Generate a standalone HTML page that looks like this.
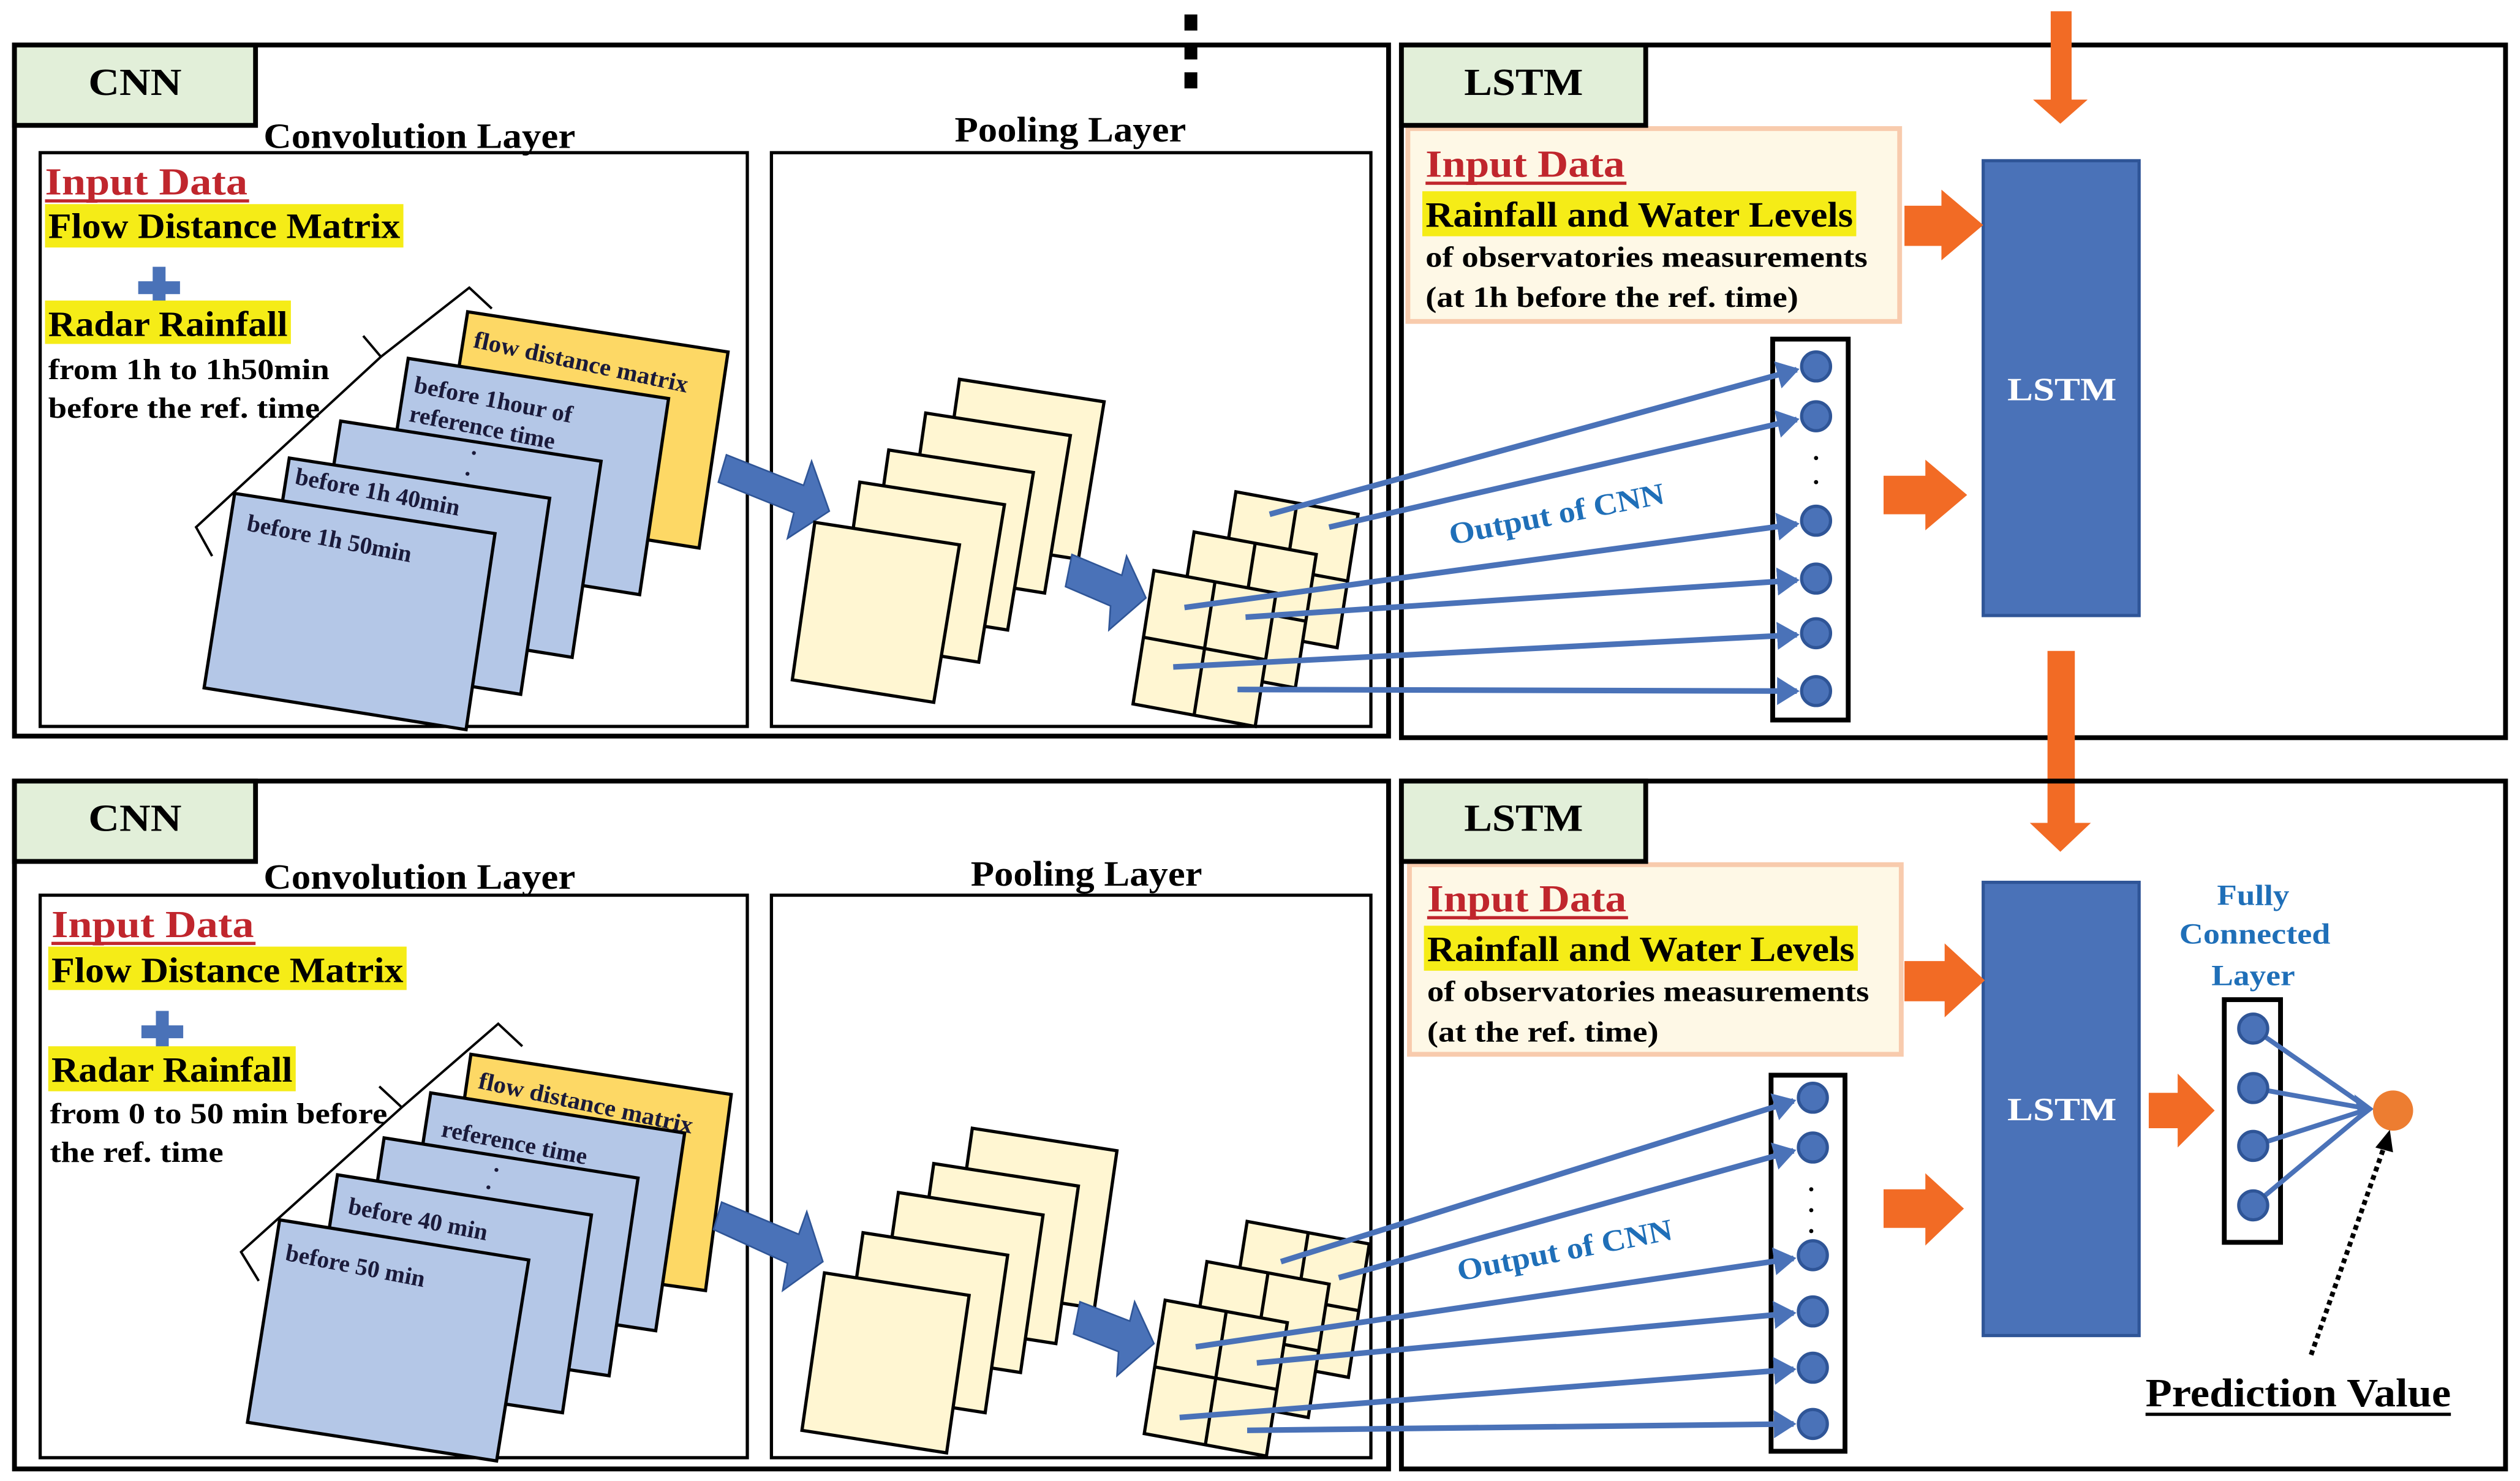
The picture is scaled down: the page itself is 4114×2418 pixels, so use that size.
<!DOCTYPE html>
<html><head><meta charset="utf-8"><style>
html,body{margin:0;padding:0;background:#fff;}
svg{display:block;}
text{font-family:"Liberation Serif",serif;font-weight:bold;}
</style></head><body>
<svg width="4114" height="2418" viewBox="0 0 1568 921.5" preserveAspectRatio="none" xmlns="http://www.w3.org/2000/svg">
<defs>
<marker id="ah" markerWidth="5" markerHeight="5" refX="3.5" refY="2.5" orient="auto" markerUnits="strokeWidth">
<path d="M0,0 L4,2.5 L0,5 Z" fill="#4a72b8"/></marker>
<marker id="ahk" markerWidth="5" markerHeight="5" refX="3.5" refY="2.5" orient="auto" markerUnits="strokeWidth">
<path d="M0,0 L4,2.5 L0,5 Z" fill="#000"/></marker>
</defs>
<rect width="1568" height="921.5" fill="#fff"/>

<!-- dotted top -->
<rect x="737" y="9" width="8" height="10" fill="#000"/>
<rect x="737" y="27" width="8" height="10" fill="#000"/>
<rect x="737" y="45" width="8" height="10" fill="#000"/>

<!-- ============ TOP PANEL ============ -->
<rect x="9" y="28" width="855" height="430" fill="none" stroke="#000" stroke-width="3"/>
<rect x="9" y="28" width="150" height="50" fill="#e2efd9" stroke="#000" stroke-width="3"/>
<text x="84" y="59" font-size="24" text-anchor="middle" textLength="58" lengthAdjust="spacingAndGlyphs">CNN</text>
<text x="261" y="92" font-size="22" text-anchor="middle" textLength="194" lengthAdjust="spacingAndGlyphs">Convolution Layer</text>
<rect x="25" y="95" width="440" height="357" fill="none" stroke="#000" stroke-width="2"/>
<text x="666" y="88" font-size="22" text-anchor="middle" textLength="144" lengthAdjust="spacingAndGlyphs">Pooling Layer</text>
<rect x="480" y="95" width="373" height="357" fill="none" stroke="#000" stroke-width="2"/>

<text x="28" y="121" font-size="24" fill="#c0262d" textLength="126" lengthAdjust="spacingAndGlyphs">Input Data</text>
<rect x="28" y="124" width="127" height="2" fill="#c0262d"/>
<rect x="28" y="127" width="223" height="27" fill="#f5ec17"/>
<text x="30" y="148" font-size="22" textLength="219" lengthAdjust="spacingAndGlyphs">Flow Distance Matrix</text>
<rect x="86" y="175" width="26" height="8" fill="#4a72b8"/>
<rect x="95" y="166" width="8" height="25" fill="#4a72b8"/>
<rect x="28" y="187" width="153" height="27" fill="#f5ec17"/>
<text x="30" y="209" font-size="22" textLength="149" lengthAdjust="spacingAndGlyphs">Radar Rainfall</text>
<text x="30" y="236" font-size="18" textLength="175" lengthAdjust="spacingAndGlyphs">from 1h to 1h50min</text>
<text x="30" y="260" font-size="18" textLength="169" lengthAdjust="spacingAndGlyphs">before the ref. time</text>

<path d="M132,346 L122,328 L237,222 L292,179 L306,192 M226,209 L237,222" fill="none" stroke="#000" stroke-width="1.5"/>

<g stroke="#000" stroke-width="2">
<polygon transform="translate(291,194)" points="0,0 162,25 144,147 -19,121" fill="#fdd865"/>
<polygon transform="translate(254,223)" points="0,0 162,25 144,147 -19,121" fill="#b4c7e7"/>
<polygon transform="translate(212,262)" points="0,0 162,25 144,147 -19,121" fill="#b4c7e7"/>
<polygon transform="translate(180,285)" points="0,0 162,25 144,147 -19,121" fill="#b4c7e7"/>
<polygon transform="translate(146,307)" points="0,0 162,25 144,147 -19,121" fill="#b4c7e7"/>
</g>
<g font-size="15" fill="#1a1a3a">
<text transform="translate(294,216) rotate(12)" textLength="136" lengthAdjust="spacingAndGlyphs">flow distance matrix</text>
<text transform="translate(257,244) rotate(11)" textLength="100" lengthAdjust="spacingAndGlyphs">before 1hour of</text>
<text transform="translate(254,262) rotate(11)" textLength="92" lengthAdjust="spacingAndGlyphs">reference time</text>
<text transform="translate(293,283)">.</text>
<text transform="translate(289,296)">.</text>
<text transform="translate(183,301) rotate(11)" textLength="104" lengthAdjust="spacingAndGlyphs">before 1h 40min</text>
<text transform="translate(153,330) rotate(11)" textLength="104" lengthAdjust="spacingAndGlyphs">before 1h 50min</text>
</g>

<polygon points="452,283 500,302 505,287 516,318 490,335 494,319 447,300" fill="#4a72b8" stroke="#2f5597" stroke-width="1"/>

<g stroke="#000" stroke-width="2" fill="#fff6d2">
<polygon transform="translate(597,236)" points="0,0 90,14 74,112 -14,98"/>
<polygon transform="translate(576,257)" points="0,0 90,14 74,112 -14,98"/>
<polygon transform="translate(553,280)" points="0,0 90,14 74,112 -14,98"/>
<polygon transform="translate(535,300)" points="0,0 90,14 74,112 -14,98"/>
<polygon transform="translate(507,325)" points="0,0 90,14 74,112 -14,98"/>
</g>
<polygon points="667,345 698,358 701,346 713,372 690,392 691,377 663,365" fill="#4a72b8" stroke="#2f5597" stroke-width="1"/>

<g stroke="#000" stroke-width="2" fill="#fff6d2">
<g transform="translate(769,306)"><polygon points="0,0 76,14 63,97 -13,83"/><path d="M38,7 L25,90 M-6.5,41.5 L69.5,55.5"/></g>
<g transform="translate(743,331)"><polygon points="0,0 76,14 63,97 -13,83"/><path d="M38,7 L25,90 M-6.5,41.5 L69.5,55.5"/></g>
<g transform="translate(718,355)"><polygon points="0,0 76,14 63,97 -13,83"/><path d="M38,7 L25,90 M-6.5,41.5 L69.5,55.5"/></g>
</g>

<!-- LSTM top -->
<rect x="872" y="28" width="687" height="431" fill="none" stroke="#000" stroke-width="3"/>
<rect x="876" y="80" width="306" height="120" fill="#fef8e6" stroke="#f8cbad" stroke-width="3"/>
<rect x="872" y="28" width="152" height="50" fill="#e2efd9" stroke="#000" stroke-width="3"/>
<text x="948" y="59" font-size="24" text-anchor="middle" textLength="74" lengthAdjust="spacingAndGlyphs">LSTM</text>
<text x="887" y="110" font-size="24" fill="#c0262d" textLength="124" lengthAdjust="spacingAndGlyphs">Input Data</text>
<rect x="887" y="113" width="125" height="2" fill="#c0262d"/>
<rect x="885" y="119" width="270" height="28" fill="#f5ec17"/>
<text x="887" y="141" font-size="22" textLength="266" lengthAdjust="spacingAndGlyphs">Rainfall and Water Levels</text>
<text x="887" y="166" font-size="18" textLength="275" lengthAdjust="spacingAndGlyphs">of observatories measurements</text>
<text x="887" y="191" font-size="18" textLength="232" lengthAdjust="spacingAndGlyphs">(at 1h before the ref. time)</text>

<rect x="1234" y="100" width="97" height="283" fill="#4a72b8" stroke="#2f5597" stroke-width="2"/>
<text x="1283" y="249" font-size="20" fill="#fff" text-anchor="middle" textLength="68" lengthAdjust="spacingAndGlyphs">LSTM</text>

<polygon points="1276,7 1289,7 1289,62 1299,62 1282,77 1265,62 1276,62" fill="#f26b25"/>
<polygon points="1185,128 1208,128 1208,118 1234,140 1208,162 1208,153 1185,153" fill="#f26b25"/>
<polygon points="1172,296 1198,296 1198,286 1224,308 1198,330 1198,320 1172,320" fill="#f26b25"/>
<polygon points="1274,405 1291,405 1291,512 1301,512 1282,530 1263,512 1274,512" fill="#f26b25"/>

<rect x="1103" y="211" width="47" height="237" fill="#fff" stroke="#000" stroke-width="3"/>
<g fill="#4a72b8" stroke="#2f5597" stroke-width="2">
<circle cx="1130" cy="228" r="9"/><circle cx="1130" cy="259" r="9"/>
<circle cx="1130" cy="324" r="9"/><circle cx="1130" cy="360" r="9"/>
<circle cx="1130" cy="394" r="9"/><circle cx="1130" cy="430" r="9"/>
</g>
<g fill="#000"><circle cx="1130" cy="285" r="1.3"/><circle cx="1130" cy="300" r="1.3"/></g>

<g stroke="#4a72b8" stroke-width="3.5" fill="none" marker-end="url(#ah)">
<line x1="790" y1="320" x2="1118" y2="230"/>
<line x1="827" y1="328" x2="1118" y2="261"/>
<line x1="737" y1="378" x2="1118" y2="326"/>
<line x1="775" y1="384" x2="1118" y2="361"/>
<line x1="730" y1="415" x2="1118" y2="395"/>
<line x1="770" y1="429" x2="1118" y2="430"/>
</g>
<text transform="translate(903,339) rotate(-11)" font-size="19" fill="#1f6fb8" textLength="136" lengthAdjust="spacingAndGlyphs">Output of CNN</text>

<!-- ============ BOTTOM PANEL ============ -->
<rect x="9" y="486" width="855" height="428" fill="none" stroke="#000" stroke-width="3"/>
<rect x="9" y="486" width="150" height="50" fill="#e2efd9" stroke="#000" stroke-width="3"/>
<text x="84" y="517" font-size="24" text-anchor="middle" textLength="58" lengthAdjust="spacingAndGlyphs">CNN</text>
<text x="261" y="553" font-size="22" text-anchor="middle" textLength="194" lengthAdjust="spacingAndGlyphs">Convolution Layer</text>
<rect x="25" y="557" width="440" height="350" fill="none" stroke="#000" stroke-width="2"/>
<text x="676" y="551" font-size="22" text-anchor="middle" textLength="144" lengthAdjust="spacingAndGlyphs">Pooling Layer</text>
<rect x="480" y="557" width="373" height="350" fill="none" stroke="#000" stroke-width="2"/>

<text x="32" y="583" font-size="24" fill="#c0262d" textLength="126" lengthAdjust="spacingAndGlyphs">Input Data</text>
<rect x="32" y="586" width="127" height="2" fill="#c0262d"/>
<rect x="30" y="589" width="223" height="27" fill="#f5ec17"/>
<text x="32" y="611" font-size="22" textLength="219" lengthAdjust="spacingAndGlyphs">Flow Distance Matrix</text>
<rect x="88" y="638" width="26" height="8" fill="#4a72b8"/>
<rect x="97" y="629" width="8" height="25" fill="#4a72b8"/>
<rect x="30" y="651" width="154" height="28" fill="#f5ec17"/>
<text x="32" y="673" font-size="22" textLength="150" lengthAdjust="spacingAndGlyphs">Radar Rainfall</text>
<text x="31" y="699" font-size="18" textLength="210" lengthAdjust="spacingAndGlyphs">from 0 to 50 min before</text>
<text x="31" y="723" font-size="18" textLength="108" lengthAdjust="spacingAndGlyphs">the ref. time</text>

<path d="M161,797 L150,779 L250,689 L310,637 L325,651 M236,676 L250,689" fill="none" stroke="#000" stroke-width="1.5"/>

<g stroke="#000" stroke-width="2">
<polygon transform="translate(293,656)" points="0,0 162,25 146,147 -18,124" fill="#fdd865"/>
<polygon transform="translate(268,680)" points="0,0 158,25 140,148 -19,124" fill="#b4c7e7"/>
<polygon transform="translate(239,708)" points="0,0 158,25 140,148 -19,124" fill="#b4c7e7"/>
<polygon transform="translate(210,731)" points="0,0 158,25 140,148 -19,124" fill="#b4c7e7"/>
<polygon transform="translate(174,759)" points="0,0 155,25 135,150 -20,126" fill="#b4c7e7"/>
</g>
<g font-size="15" fill="#1a1a3a">
<text transform="translate(297,677) rotate(12)" textLength="136" lengthAdjust="spacingAndGlyphs">flow distance matrix</text>
<text transform="translate(274,707) rotate(11)" textLength="92" lengthAdjust="spacingAndGlyphs">reference time</text>
<text transform="translate(307,729)">.</text>
<text transform="translate(302,740)">.</text>
<text transform="translate(216,755) rotate(11)" textLength="88" lengthAdjust="spacingAndGlyphs">before 40 min</text>
<text transform="translate(177,784) rotate(11)" textLength="88" lengthAdjust="spacingAndGlyphs">before 50 min</text>
</g>

<polygon points="449,748 497,768 502,754 512,785 487,803 490,786 444,765" fill="#4a72b8" stroke="#2f5597" stroke-width="1"/>

<g stroke="#000" stroke-width="2" fill="#fff6d2">
<polygon transform="translate(605,702)" points="0,0 90,14 76,112 -14,98"/>
<polygon transform="translate(581,724)" points="0,0 90,14 76,112 -14,98"/>
<polygon transform="translate(559,742)" points="0,0 90,14 76,112 -14,98"/>
<polygon transform="translate(537,767)" points="0,0 90,14 76,112 -14,98"/>
<polygon transform="translate(513,792)" points="0,0 90,14 76,112 -14,98"/>
</g>
<polygon points="672,810 703,822 706,810 718,836 695,856 696,841 668,830" fill="#4a72b8" stroke="#2f5597" stroke-width="1"/>

<g stroke="#000" stroke-width="2" fill="#fff6d2">
<g transform="translate(776,760)"><polygon points="0,0 76,14 63,97 -13,83"/><path d="M38,7 L25,90 M-6.5,41.5 L69.5,55.5"/></g>
<g transform="translate(751,785)"><polygon points="0,0 76,14 63,97 -13,83"/><path d="M38,7 L25,90 M-6.5,41.5 L69.5,55.5"/></g>
<g transform="translate(725,809)"><polygon points="0,0 76,14 63,97 -13,83"/><path d="M38,7 L25,90 M-6.5,41.5 L69.5,55.5"/></g>
</g>

<!-- LSTM bottom -->
<rect x="872" y="486" width="687" height="428" fill="none" stroke="#000" stroke-width="3"/>
<rect x="877" y="538" width="306" height="118" fill="#fef8e6" stroke="#f8cbad" stroke-width="3"/>
<rect x="872" y="486" width="152" height="50" fill="#e2efd9" stroke="#000" stroke-width="3"/>
<text x="948" y="517" font-size="24" text-anchor="middle" textLength="74" lengthAdjust="spacingAndGlyphs">LSTM</text>
<text x="888" y="567" font-size="24" fill="#c0262d" textLength="124" lengthAdjust="spacingAndGlyphs">Input Data</text>
<rect x="888" y="570" width="125" height="2" fill="#c0262d"/>
<rect x="886" y="576" width="270" height="28" fill="#f5ec17"/>
<text x="888" y="598" font-size="22" textLength="266" lengthAdjust="spacingAndGlyphs">Rainfall and Water Levels</text>
<text x="888" y="623" font-size="18" textLength="275" lengthAdjust="spacingAndGlyphs">of observatories measurements</text>
<text x="888" y="648" font-size="18" textLength="144" lengthAdjust="spacingAndGlyphs">(at the ref. time)</text>

<rect x="1234" y="549" width="97" height="282" fill="#4a72b8" stroke="#2f5597" stroke-width="2"/>
<text x="1283" y="697" font-size="20" fill="#fff" text-anchor="middle" textLength="68" lengthAdjust="spacingAndGlyphs">LSTM</text>

<polygon points="1185,598 1210,598 1210,587 1235,610 1210,633 1210,623 1185,623" fill="#f26b25"/>
<polygon points="1172,740 1198,740 1198,730 1222,752 1198,775 1198,764 1172,764" fill="#f26b25"/>
<polygon points="1337,680 1355,680 1355,668 1378,691 1355,714 1355,702 1337,702" fill="#f26b25"/>

<rect x="1102" y="669" width="46" height="234" fill="#fff" stroke="#000" stroke-width="3"/>
<g fill="#4a72b8" stroke="#2f5597" stroke-width="2">
<circle cx="1128" cy="683" r="9"/><circle cx="1128" cy="714" r="9"/>
<circle cx="1128" cy="781" r="9"/><circle cx="1128" cy="816" r="9"/>
<circle cx="1128" cy="851" r="9"/><circle cx="1128" cy="886" r="9"/>
</g>
<g fill="#000"><circle cx="1127" cy="740" r="1.3"/><circle cx="1127" cy="753" r="1.3"/><circle cx="1127" cy="766" r="1.3"/></g>
<g stroke="#4a72b8" stroke-width="3.5" fill="none" marker-end="url(#ah)">
<line x1="797" y1="785" x2="1116" y2="685"/>
<line x1="833" y1="795" x2="1116" y2="716"/>
<line x1="744" y1="838" x2="1116" y2="783"/>
<line x1="782" y1="848" x2="1116" y2="817"/>
<line x1="734" y1="882" x2="1116" y2="852"/>
<line x1="776" y1="890" x2="1116" y2="886"/>
</g>
<text transform="translate(908,797) rotate(-11)" font-size="19" fill="#1f6fb8" textLength="136" lengthAdjust="spacingAndGlyphs">Output of CNN</text>

<!-- Fully connected -->
<text x="1402" y="563" font-size="18" fill="#1f6fb8" text-anchor="middle" textLength="45" lengthAdjust="spacingAndGlyphs">Fully</text>
<text x="1403" y="587" font-size="18" fill="#1f6fb8" text-anchor="middle" textLength="94" lengthAdjust="spacingAndGlyphs">Connected</text>
<text x="1402" y="613" font-size="18" fill="#1f6fb8" text-anchor="middle" textLength="52" lengthAdjust="spacingAndGlyphs">Layer</text>
<rect x="1384" y="622" width="35" height="151" fill="#fff" stroke="#000" stroke-width="3"/>
<g stroke="#4a72b8" stroke-width="3" fill="none">
<line x1="1402" y1="640" x2="1474" y2="690"/>
<line x1="1402" y1="677" x2="1474" y2="690"/>
<line x1="1402" y1="713" x2="1474" y2="690"/>
<line x1="1402" y1="750" x2="1474" y2="690"/>
</g>
<polygon points="1477,690 1465,681 1468,697" fill="#4a72b8"/>
<g fill="#4a72b8" stroke="#2f5597" stroke-width="2">
<circle cx="1402" cy="640" r="9"/><circle cx="1402" cy="677" r="9"/>
<circle cx="1402" cy="713" r="9"/><circle cx="1402" cy="750" r="9"/>
</g>
<circle cx="1489" cy="691" r="12.5" fill="#ed7d31"/>
<line x1="1438" y1="843" x2="1484" y2="712" stroke="#000" stroke-width="3" stroke-dasharray="3,2.5"/>
<polygon points="1487,703 1478,714 1489,717" fill="#000"/>
<text x="1430" y="875" font-size="25" text-anchor="middle" textLength="190" lengthAdjust="spacingAndGlyphs">Prediction Value</text>
<rect x="1335" y="879" width="190" height="2" fill="#000"/>
</svg>
</body></html>
